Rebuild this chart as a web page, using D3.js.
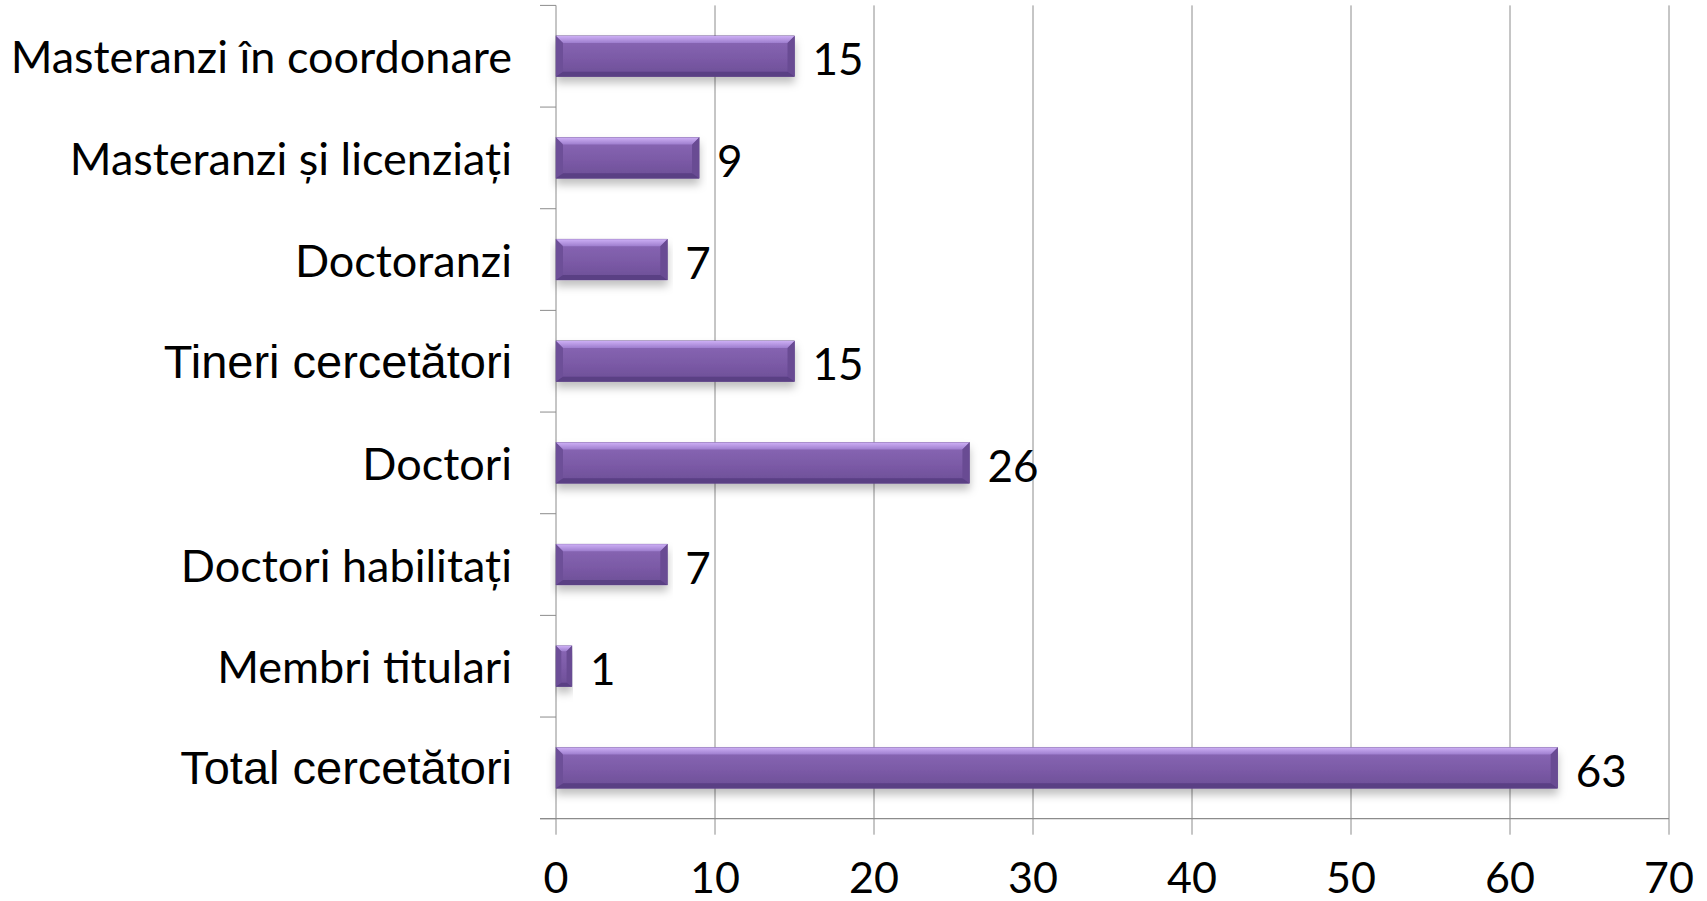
<!DOCTYPE html>
<html>
<head>
<meta charset="utf-8">
<script src="https://cdnjs.cloudflare.com/ajax/libs/d3/7.8.5/d3.min.js"></script>
<style>
  html, body { margin: 0; padding: 0; background: #fff; }
  svg { display: block; }
  .calibri { font-family: Lato, "Open Sans", sans-serif; }
  .arial { font-family: "Liberation Sans", Arimo, Arial, sans-serif; }
</style>
</head>
<body>
<div id="chart"></div>
<script>
// data, top row first
const categories = [
  'Masteranzi în coordonare',
  'Masteranzi și licenziați',
  'Doctoranzi',
  'Tineri cercetători',
  'Doctori',
  'Doctori habilitați',
  'Membri titulari',
  'Total cercetători'
];
const values = [15, 9, 7, 15, 26, 7, 1, 63];
// these two labels are set in an Arial-like face in the original
const arialLabels = ['Tineri cercetători', 'Total cercetători'];
const xTicks = [0, 10, 20, 30, 40, 50, 60, 70];

const width = 1707;
const height = 901;
const margin = {top: 5.4, right: 38, bottom: 82.3, left: 556};

const svg = d3.select('#chart').append('svg')
  .attr('width', width)
  .attr('height', height);

const defs = svg.append('defs');

// bar shading
const face = defs.append('linearGradient').attr('id', 'face')
  .attr('x1', 0).attr('y1', 0).attr('x2', 0).attr('y2', 1);
face.append('stop').attr('offset', '0%').attr('stop-color', '#8a68b6');
face.append('stop').attr('offset', '60%').attr('stop-color', '#7a59a5');
face.append('stop').attr('offset', '100%').attr('stop-color', '#6c4e96');

const topBevel = defs.append('linearGradient').attr('id', 'topBevel')
  .attr('x1', 0).attr('y1', 0).attr('x2', 0).attr('y2', 1);
topBevel.append('stop').attr('offset', '0%').attr('stop-color', '#cdaff5');
topBevel.append('stop').attr('offset', '100%').attr('stop-color', '#9e7ece');

const shadow = defs.append('filter').attr('id', 'shadow')
  .attr('x', '-5%').attr('y', '-20%').attr('width', '110%').attr('height', '170%');
shadow.append('feDropShadow')
  .attr('dx', 0).attr('dy', 6).attr('stdDeviation', 4)
  .attr('flood-color', '#000').attr('flood-opacity', 0.25);

const x = d3.scaleLinear()
  .domain([0, 70])
  .range([margin.left, width - margin.right]);

const y = d3.scaleBand()
  .domain(categories)
  .range([margin.top, height - margin.bottom])
  .paddingInner(0.6)
  .paddingOuter(0.3);

const plotTop = margin.top;
const plotBottom = height - margin.bottom;
const tickLen = 16;

// vertical gridlines, running down past the axis as tick marks
svg.append('g')
  .selectAll('line')
  .data(xTicks)
  .join('line')
  .attr('x1', d => x(d)).attr('x2', d => x(d))
  .attr('y1', plotTop).attr('y2', plotBottom + tickLen)
  .attr('stroke', '#8c8c8c')
  .attr('stroke-width', 1);

// bottom axis line
svg.append('line')
  .attr('x1', x(0) - tickLen).attr('x2', x(70))
  .attr('y1', plotBottom).attr('y2', plotBottom)
  .attr('stroke', '#8c8c8c')
  .attr('stroke-width', 1.2);

// left category ticks at band boundaries
const boundaries = categories.map(c => y(c) - y.step() * y.paddingInner() / 2)
  .concat([plotBottom]);
svg.append('g')
  .selectAll('line')
  .data(boundaries)
  .join('line')
  .attr('x1', x(0) - tickLen).attr('x2', x(0))
  .attr('y1', d => d).attr('y2', d => d)
  .attr('stroke', '#8c8c8c')
  .attr('stroke-width', 1);

// x tick labels
svg.append('g')
  .selectAll('text')
  .data(xTicks)
  .join('text')
  .attr('class', 'calibri')
  .attr('x', d => x(d))
  .attr('y', plotBottom + 74)
  .attr('text-anchor', 'middle')
  .attr('font-size', 43)
  .attr('fill', '#000')
  .text(d => d);

// category labels
svg.append('g')
  .selectAll('text')
  .data(categories)
  .join('text')
  .attr('class', d => arialLabels.includes(d) ? 'arial' : 'calibri')
  .attr('x', x(0) - 44)
  .attr('y', d => y(d) + y.bandwidth() / 2)
  .attr('text-anchor', 'end')
  .attr('dominant-baseline', 'central')
  .attr('font-size', d => arialLabels.includes(d) ? 47 : 45)
  .attr('fill', '#000')
  .text(d => d);

// bars
const rows = categories.map((c, i) => ({cat: c, value: values[i]}));

const bars = svg.append('g')
  .selectAll('g')
  .data(rows)
  .join('g')
  .attr('filter', 'url(#shadow)');

function bevel(d) {
  const w = x(d.value) - x(0);
  return Math.min(7, w / 3);
}

bars.append('rect')
  .attr('x', x(0))
  .attr('y', d => y(d.cat))
  .attr('width', d => x(d.value) - x(0))
  .attr('height', y.bandwidth())
  .attr('fill', 'url(#face)')
  .attr('stroke', '#5b4185')
  .attr('stroke-width', 0.6);

// top bevel
bars.append('polygon')
  .attr('points', d => {
    const x0 = x(0), x1 = x(d.value), y0 = y(d.cat), b = bevel(d);
    return [[x0, y0], [x1, y0], [x1 - b, y0 + b], [x0 + b, y0 + b]].join(' ');
  })
  .attr('fill', 'url(#topBevel)');

// bottom bevel
bars.append('polygon')
  .attr('points', d => {
    const x0 = x(0), x1 = x(d.value), y1 = y(d.cat) + y.bandwidth(), b = bevel(d) * 0.7;
    return [[x0, y1], [x1, y1], [x1 - b, y1 - b], [x0 + b, y1 - b]].join(' ');
  })
  .attr('fill', '#5a3f84');

// side bevels
bars.append('polygon')
  .attr('points', d => {
    const x0 = x(0), y0 = y(d.cat), y1 = y0 + y.bandwidth(), b = bevel(d);
    return [[x0, y0], [x0 + b, y0 + b], [x0 + b, y1 - b * 0.7], [x0, y1]].join(' ');
  })
  .attr('fill', '#6d4f98');

bars.append('polygon')
  .attr('points', d => {
    const x1 = x(d.value), y0 = y(d.cat), y1 = y0 + y.bandwidth(), b = bevel(d);
    return [[x1, y0], [x1 - b, y0 + b], [x1 - b, y1 - b * 0.7], [x1, y1]].join(' ');
  })
  .attr('fill', '#694b93');

// value labels
svg.append('g')
  .selectAll('text')
  .data(rows)
  .join('text')
  .attr('class', 'calibri')
  .attr('x', d => x(d.value) + 18)
  .attr('y', d => y(d.cat) + y.bandwidth() / 2 + 2)
  .attr('dominant-baseline', 'central')
  .attr('font-size', 44)
  .attr('fill', '#000')
  .text(d => d.value);
</script>
</body>
</html>
